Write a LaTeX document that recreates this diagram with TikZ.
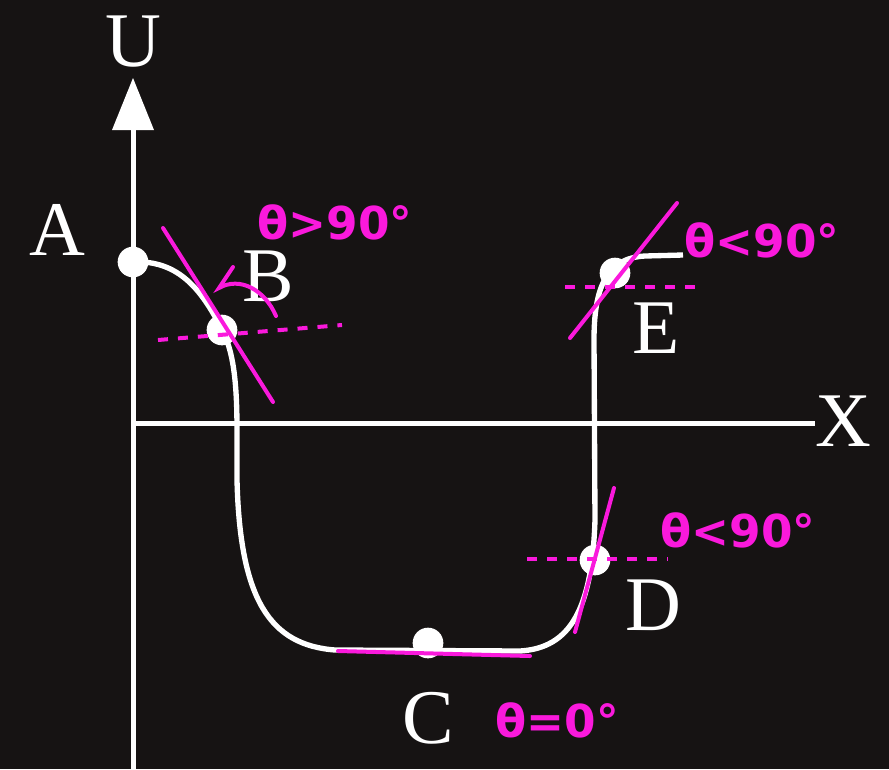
\documentclass[tikz,border=0pt]{standalone}
\usepackage{fontspec}
\setmainfont{Liberation Serif}
\newfontfamily\handfont{DejaVu Sans}
\definecolor{bg}{RGB}{22,19,19}
\definecolor{mag}{RGB}{250,25,220}
\begin{document}
\begin{tikzpicture}[x=0.75pt,y=-0.75pt,
  axis/.style={white,line width=3.75pt},
  curve/.style={white,line width=4pt},
  dot/.style={circle,fill=white,minimum size=23pt,inner sep=0pt},
  lab/.style={white,font=\fontsize{58}{60}\selectfont,inner sep=0pt},
  tang/.style={mag,line width=3pt,line cap=round},
  dashline/.style={mag,line width=3pt,dash pattern=on 7.5pt off 7.5pt},
  note/.style={mag,font=\handfont\bfseries\fontsize{34}{36}\selectfont,inner sep=0pt}]
\fill[bg] (0,0) rectangle (889,769);
\useasboundingbox (0,0) rectangle (889,769);
% axes
\coordinate (yb) at (133,769);
\coordinate (yt) at (133,126);
\coordinate (O) at (133,423);
\coordinate (xe) at (815,423);
\draw[axis] (yb) -- (yt);
\fill[white] (133,78) -- (154,130) -- (112,130) -- cycle;
\draw[axis] (O) -- (xe);
% axis labels
\node[lab] (U) at (133,42) {U};
\node[lab] (X) at (843,421) {X};
% curve
\draw[curve] (133,262) .. controls (175,260) and (200,285) .. (222,330)
  .. controls (233,350) and (237,380) .. (237,430) -- (237,480)
  .. controls (240,600) and (270,645) .. (335,650) -- (520,651)
  .. controls (570,648) and (592,610) .. (595,520) -- (594,340)
  .. controls (594,290) and (605,258) .. (645,256) -- (683,255);
% points
\node[dot] (A) at (133,262) {};
\node[dot] (B) at (222,330) {};
\node[dot] (C) at (428,643) {};
\node[dot] (D) at (595,560) {};
\node[dot] (E) at (615,273) {};
% point labels
\node[lab] (LA) at (57,230) {A};
\node[lab] (LB) at (268,276) {B};
\node[lab] (LC) at (428,718) {C};
\node[lab] (LD) at (653,605) {D};
\node[lab] (LE) at (656,328) {E};
% tangents and horizontals
\draw[tang] (163,228) -- (273,402);
\draw[dashline] (158,340) -- (342,325);
\draw[tang] (233,267) -- (219,288) .. controls (240,276) and (265,290) .. (276,316);
\draw[tang] (677,203) -- (570,338);
\draw[dashline] (565,287) -- (705,287);
\draw[tang] (614,488) -- (575,632);
\draw[dashline] (527,559) -- (668,559);
\draw[tang] (338,651) -- (530,656);
% notes
\node[note] (nB) at (335,222) {θ>90°};
\node[note] (nE) at (762,240) {θ<90°};
\node[note] (nD) at (738,530) {θ<90°};
\node[note] (nC) at (557,720) {θ=0°};
\end{tikzpicture}
\end{document}
